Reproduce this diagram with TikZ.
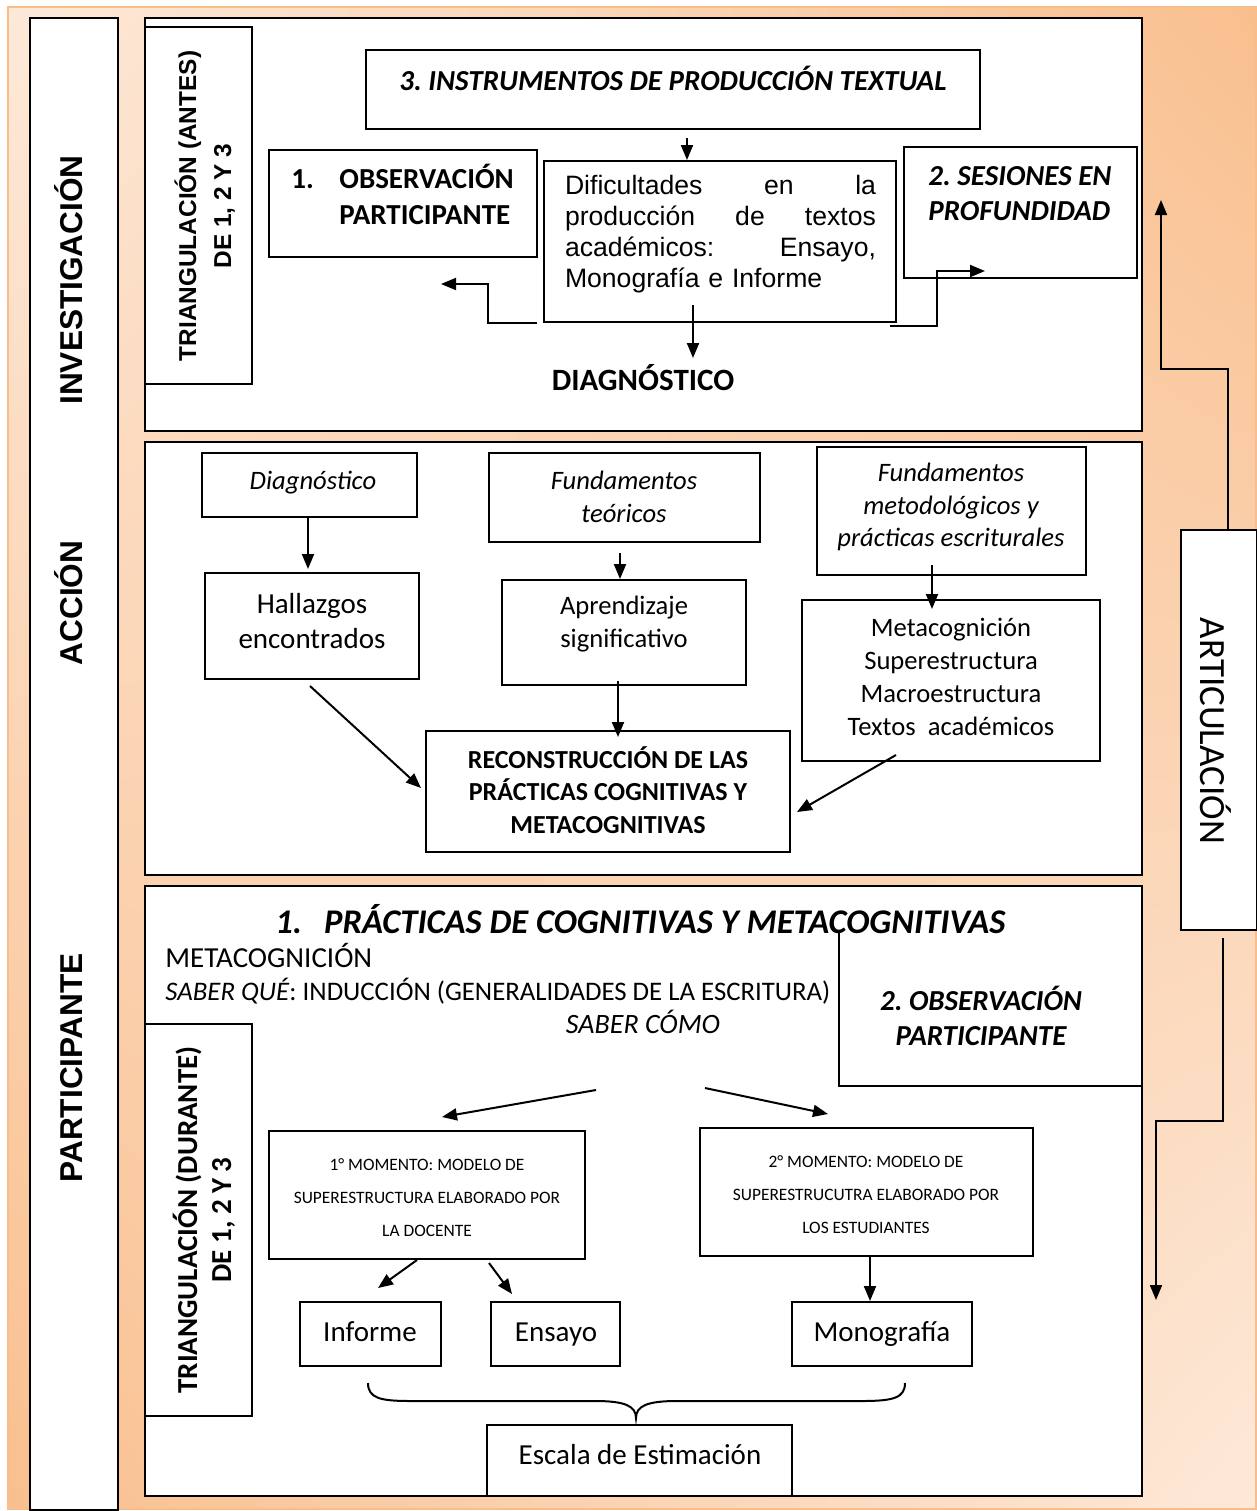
\documentclass[tikz,border=0pt]{standalone}
\usepackage{fontspec}
\setmainfont{Carlito}
\newfontfamily\arialfont{Liberation Sans}
\usetikzlibrary{arrows.meta,fit,shadings}
\newcommand\fsz[2]{\fontsize{#1}{#2}\selectfont}
\definecolor{peachlight}{HTML}{FDE9D9}
\definecolor{peachdark}{HTML}{F9BF8E}
\definecolor{peachedge}{HTML}{F8BD8B}
\frenchspacing

\begin{document}
\begin{tikzpicture}[x=0.5pt,y=-0.5pt,
  frame/.style={draw=black, line width=1.3pt, fill=white, inner sep=0pt},
  bx/.style={draw=black, line width=1pt, fill=white, inner sep=0pt},
  arr/.style={line width=1pt, -{Triangle[length=7.5pt,width=6pt]}},
  sidelbl/.style={inner sep=0pt, font=\arialfont\bfseries\fsz{15.8}{18}},
]
\useasboundingbox (0,0) rectangle (1257,1511);

% page background with corner shading
\shade[upper left=peachlight, upper right=peachdark, lower left=peachdark, lower right=peachlight]
  (8,7) rectangle (1256,1509);
\draw[peachedge, line width=0.8pt] (8,7) rectangle (1256,1509);

% ---------- left column with the three phases ----------
\node[frame, fit={(30,18) (118,1510)}] (colL) {};
\node[sidelbl, rotate=90, anchor=base] (lInv) at (82,280) {INVESTIGACIÓN};
\node[sidelbl, rotate=90, anchor=base] (lAcc) at (82,603) {ACCIÓN};
\node[sidelbl, rotate=90, anchor=base] (lPar) at (82,1068) {PARTICIPANTE};

% ---------- phase panels ----------
\node[frame, fit={(145,18) (1142,431)}] (secInv) {};
\node[frame, fit={(145,442) (1142,875)}] (secAcc) {};
\node[frame, fit={(145,886) (1142,1496)}] (secPar) {};

% ---------- investigación ----------
\node[bx, fit={(145,27) (252,384)}] (triA) {};
\node[inner sep=0pt, font=\arialfont\bfseries\fsz{12.2}{14}, rotate=90, anchor=base] (triA1) at (196,206) {TRIANGULACIÓN (ANTES)};
\node[inner sep=0pt, font=\arialfont\bfseries\fsz{12.2}{14}, rotate=90, anchor=base] (triA2) at (231,206) {DE 1, 2 Y 3};

\node[bx, fit={(366,50) (980,129)}] (instr) {};
\node[inner sep=0pt, font=\bfseries\itshape\fsz{14.5}{17.5}, anchor=base] (instrT) at (673,90) {3. INSTRUMENTOS DE PRODUCCIÓN TEXTUAL};

\node[bx, fit={(269,150) (537,257)}] (obs) {};
\node[inner sep=0pt, font=\bfseries\fsz{14.5}{17.5}, anchor=base west] (obsN) at (291,188) {1.};
\node[inner sep=0pt, font=\bfseries\fsz{14.5}{18}, anchor=west, align=left] (obsT) at (339,194) {OBSERVACIÓN\\PARTICIPANTE};

\node[bx, fit={(544,161) (896,322)}] (dific) {};
\node[inner sep=0pt, font=\arialfont\fsz{13.3}{15.5}, text width=155.5pt, align=left] (dificT) at (720.5,234)
  {\makebox[155.5pt]{Dificultades\hfill en\hfill la}\\
   \makebox[155.5pt]{producción\hfill de\hfill textos}\\
   \makebox[155.5pt]{académicos:\hfill Ensayo,}\\
   Monografía e Informe};

\node[bx, fit={(904,147) (1137,278)}] (ses) {};
\node[inner sep=0pt, font=\bfseries\itshape\fsz{14.5}{17.5}, anchor=west, align=left] (sesT) at (928,194) {2. SESIONES EN\\PROFUNDIDAD};

\node[inner sep=0pt, font=\bfseries\fsz{15.5}{18}] (diagT) at (643,378) {DIAGNÓSTICO};

\coordinate (i1) at (687,138);
\draw[arr] (i1) -- (i1 |- dific.north);
\coordinate (i2a) at (537,323);
\coordinate (i2b) at (488,284);
\coordinate (i2c) at (441,284);
\draw[arr] (i2a) -| (i2b) -- (i2c);
\coordinate (i3a) at (890,326);
\coordinate (i3b) at (937,271);
\coordinate (i3c) at (985,271);
\draw[arr] (i3a) -| (i3b) -- (i3c);
\coordinate (i4) at (693,305);
\coordinate (i4e) at (693,358);
\draw[arr] (i4) -- (i4e);

% ---------- articulación ----------
\node[bx, fit={(1181,530) (1257,930)}] (artic) {};
\node[inner sep=0pt, font=\fsz{18.5}{20}, rotate=-90, anchor=base] (articT) at (1200,731) {ARTICULACIÓN};
\coordinate (u0) at (1228,530);
\coordinate (u1) at (1161,369);
\coordinate (u2) at (1161,200);
\draw[arr] (u0) |- (u1) -- (u2);
\coordinate (d0) at (1223,938);
\coordinate (d1) at (1156,1121);
\coordinate (d2) at (1156,1300);
\draw[arr] (d0) |- (d1) -- (d2);

% ---------- acción ----------
\node[bx, fit={(202,453) (417,517)}] (diag2) {};
\node[inner sep=0pt, font=\itshape\fsz{13.3}{16.5}, anchor=base] (diag2T) at (313,489) {Diagnóstico};
\node[bx, fit={(489,453) (760,542)}] (fundT) {};
\node[inner sep=0pt, font=\itshape\fsz{13.3}{16.5}, align=center] (fundTT) at (624,497) {Fundamentos\\teóricos};
\node[bx, fit={(817,447) (1086,575)}] (fundM) {};
\node[inner sep=0pt, font=\itshape\fsz{13.3}{16.3}, align=center] (fundMT) at (951,507) {Fundamentos\\metodológicos y\\prácticas escriturales};

\node[bx, fit={(205,573) (419,679)}] (hall) {};
\node[inner sep=0pt, font=\fsz{14.5}{17.5}, align=center] (hallT) at (312,621) {Hallazgos\\encontrados};
\node[bx, fit={(502,580) (746,685)}] (aprend) {};
\node[inner sep=0pt, font=\fsz{13.3}{16.5}, align=center] (aprendT) at (624,624) {Aprendizaje\\significativo};
\node[bx, fit={(802,600) (1100,761)}] (metac) {};
\node[inner sep=0pt, font=\fsz{13.3}{16.5}, align=center] (metacT) at (951,677)
  {Metacognición\\Superestructura\\Macroestructura\\Textos~~académicos};

\node[bx, fit={(426,731) (790,852)}] (recon) {};
\node[inner sep=0pt, font=\bfseries\fsz{13}{16.3}, align=center] (reconT) at (608,790)
  {RECONSTRUCCIÓN DE LAS\\PRÁCTICAS COGNITIVAS Y\\METACOGNITIVAS};

\coordinate (a1) at (308,517);
\coordinate (a1e) at (308,569);
\draw[arr] (a1) -- (a1e);
\coordinate (a2) at (620,553);
\draw[arr] (a2) -- (a2 |- aprend.north);
\coordinate (a3) at (932,565);
\coordinate (a3e) at (932,609);
\draw[arr] (a3) -- (a3e);
\coordinate (a4) at (618,681);
\coordinate (a4e) at (618,737);
\draw[arr] (a4) -- (a4e);
\coordinate (a5) at (310,686);
\coordinate (a5e) at (421,788);
\draw[arr] (a5) -- (a5e);
\coordinate (a6) at (896,755);
\coordinate (a6e) at (797,812);
\draw[arr] (a6) -- (a6e);

% ---------- participante ----------
\node[inner sep=0pt, font=\bfseries\itshape\fsz{17.3}{20}, anchor=west] (parTitle) at (275,919)
  {1.\hspace{11pt}PRÁCTICAS DE COGNITIVAS Y METACOGNITIVAS};
\node[inner sep=0pt, font=\fsz{14.5}{17.5}, anchor=base west] (metaT) at (165,967) {METACOGNICIÓN};
\node[inner sep=0pt, font=\fsz{13.4}{16}, anchor=base west] (saberQ) at (165,1000)
  {\textit{SABER QUÉ}: INDUCCIÓN (GENERALIDADES DE LA ESCRITURA)};
\node[inner sep=0pt, font=\itshape\fsz{14}{17}, anchor=base] (saberC) at (643,1033) {SABER CÓMO};

\node[draw=none, inner sep=0pt, fit={(839,932) (1142,1086)}] (obs2) {};
\draw[line width=1pt] (obs2.north west) |- (obs2.south east);
\node[inner sep=0pt, font=\bfseries\itshape\fsz{14.5}{17.5}, align=center] (obs2T) at (981,1016) {2. OBSERVACIÓN\\PARTICIPANTE};

\node[bx, fit={(145,1024) (252,1416)}] (triD) {};
\node[inner sep=0pt, font=\bfseries\fsz{14.5}{17.5}, rotate=90, anchor=base] (triD1) at (197,1220) {TRIANGULACIÓN (DURANTE)};
\node[inner sep=0pt, font=\bfseries\fsz{14.5}{17.5}, rotate=90, anchor=base] (triD2) at (231,1220) {DE 1, 2 Y 3};

\coordinate (s1) at (596,1090);
\coordinate (s1e) at (442,1117);
\draw[arr] (s1) -- (s1e);
\coordinate (s2) at (705,1088);
\coordinate (s2e) at (828,1114);
\draw[arr] (s2) -- (s2e);

\node[bx, fit={(269,1131) (585,1259)}] (mom1) {};
\node[inner sep=0pt, font=\fsz{8.7}{16.5}, align=center] (mom1T) at (427,1198)
  {1° MOMENTO: MODELO DE\\SUPERESTRUCTURA ELABORADO POR\\LA DOCENTE};
\node[bx, fit={(700,1128) (1033,1256)}] (mom2) {};
\node[inner sep=0pt, font=\fsz{8.7}{16.5}, align=center] (mom2T) at (866,1195)
  {2° MOMENTO: MODELO DE\\SUPERESTRUCUTRA ELABORADO POR\\LOS ESTUDIANTES};

\node[bx, fit={(300,1302) (441,1366)}] (inf) {};
\node[inner sep=0pt, font=\fsz{14.5}{17.5}, anchor=base] (infT) at (370,1341) {Informe};
\node[bx, fit={(491,1302) (620,1366)}] (ens) {};
\node[inner sep=0pt, font=\fsz{14.5}{17.5}, anchor=base] (ensT) at (556,1341) {Ensayo};
\node[bx, fit={(792,1302) (972,1366)}] (mono) {};
\node[inner sep=0pt, font=\fsz{14.5}{17.5}, anchor=base] (monoT) at (882,1341) {Monografía};

\coordinate (m1) at (417,1260);
\coordinate (m1e) at (378,1288);
\draw[arr] (m1) -- (m1e);
\coordinate (m2) at (489,1263);
\coordinate (m2e) at (512,1294);
\draw[arr] (m2) -- (m2e);
\coordinate (m3) at (870,1256);
\draw[arr] (m3) -- (m3 |- mono.north);

% curly brace gathering the three texts
\draw[line width=1pt] (368,1383) .. controls (368,1398) and (380,1401) .. (410,1401) -- (595,1401)
  .. controls (625,1401) and (636,1406) .. (636,1418)
  .. controls (636,1406) and (647,1401) .. (677,1401) -- (862,1401)
  .. controls (893,1401) and (905,1398) .. (905,1383);

\node[bx, fit={(487,1425) (792,1496)}] (escala) {};
\node[inner sep=0pt, font=\fsz{14.5}{17.5}, anchor=base] (escalaT) at (640,1464) {Escala de Estimación};
\end{tikzpicture}
\end{document}
